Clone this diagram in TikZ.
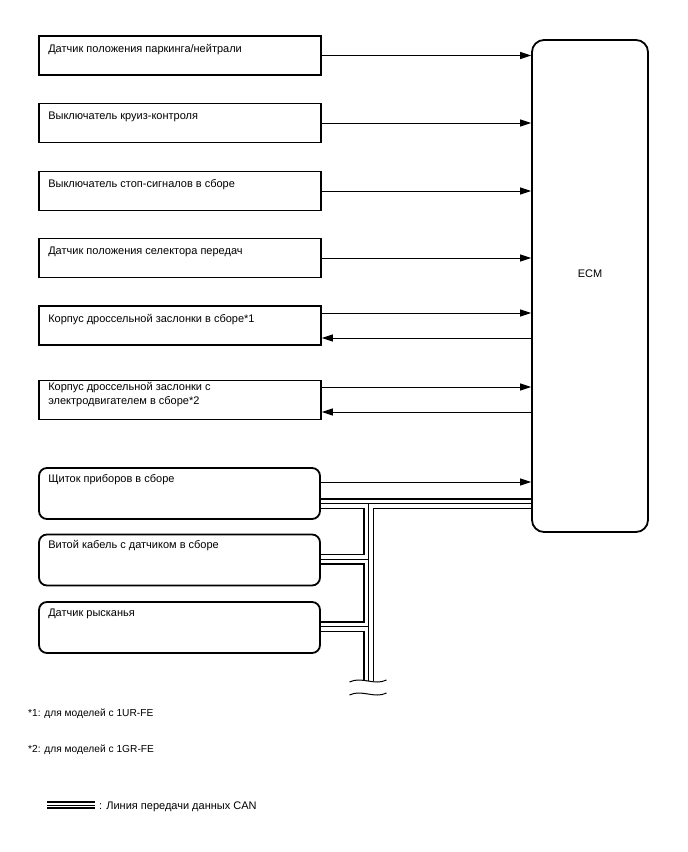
\documentclass[tikz,border=0pt]{standalone}
\usepackage{fontspec}
\setmainfont{Liberation Sans}
\usetikzlibrary{arrows.meta,calc}
\begin{document}
\begin{tikzpicture}[
  x=1pt, y=-1pt,
  every node/.style={font=\fontsize{11}{13}\selectfont},
  sqbox/.style={draw, line width=1.8pt, minimum width=282pt, minimum height=39pt, inner sep=0pt},
  rndbox/.style={draw, line width=1.8pt, rounded corners=8pt, minimum width=281pt, minimum height=51pt, inner sep=0pt},
  txt/.style={anchor=base west, inner sep=0pt},
  note/.style={txt, font=\fontsize{10.2}{12}\selectfont},
  sig/.style={line width=1pt, -{Triangle[length=11pt,width=7pt]}},
]
\useasboundingbox (0,0) rectangle (688,852);

% ECM block
\node[draw, line width=1.8pt, rounded corners=12pt, minimum width=116pt, minimum height=492pt,
      inner sep=0pt] (ecm) at (590,286) {};
\node (ecm-t) at ([yshift=12pt]ecm.center) {ECM};

% Input boxes: {name}{y centre}{label}
\foreach \n/\y/\lab in {
  pnsw/55.5/{Датчик положения паркинга/нейтрали},
  ccsw/123/Выключатель круиз-контроля,
  stsw/191/Выключатель стоп-сигналов в сборе,
  shsen/258/Датчик положения селектора передач,
  thra/325.5/Корпус дроссельной заслонки в сборе*1%
} {
  \node[sqbox] (\n) at (180,\y) {};
  \node[txt] (\n-t) at ([shift={(10,17)}]\n.north west) {\lab};
}
\node[sqbox] (thrb) at (180,400) {};
\node[txt] (thrb-t) at ([shift={(10,11)}]thrb.north west) {Корпус дроссельной заслонки с};
\node[txt] (thrb-t2) at ([yshift=-14pt]thrb-t.base west) {электродвигателем в сборе*2};

% CAN boxes
\foreach \n/\y/\lab in {
  meter/493.5/Щиток приборов в сборе,
  spcbl/560/Витой кабель с датчиком в сборе,
  yawsen/627.5/Датчик рысканья%
} {
  \node[rndbox] (\n) at (179.5,\y) {};
  \node[txt] (\n-t) at ([shift={(10,15)}]\n.north west) {\lab};
}

% Signal lines
\foreach \n in {pnsw,ccsw,stsw,shsen}
  \draw[sig] (\n.east) -- (\n.east -| ecm.west);
\draw[sig] ([yshift=12.5pt]thra.east) -- ([yshift=12.5pt]thra.east -| ecm.west);
\draw[sig] ([yshift=-12.5pt]thra.east -| ecm.west) -- ([yshift=-12.5pt]thra.east);
\draw[sig] ([yshift=13pt]thrb.east) -- ([yshift=13pt]thrb.east -| ecm.west);
\draw[sig] ([yshift=-12pt]thrb.east -| ecm.west) -- ([yshift=-12pt]thrb.east);
\draw[sig] ([yshift=11.5pt]meter.east) -- ([yshift=11.5pt]meter.east -| ecm.west);

% CAN bus (black / white / black layers)
\coordinate (canx) at (368.5,0);
\coordinate (can1) at ([yshift=-10pt]meter.east);
\coordinate (canend) at (368.5,681);
\foreach \lw/\col in {11/black, 8/white, 1/black} {
  \draw[line width=\lw pt, \col] (can1) -- (can1 -| ecm.west);
  \draw[line width=\lw pt, \col] (can1 -| canx) -- (canend);
  \draw[line width=\lw pt, \col] ([yshift=1pt]spcbl.east) -- ([yshift=1pt]spcbl.east -| canx);
  \draw[line width=\lw pt, \col] ([yshift=1pt]yawsen.east) -- ([yshift=1pt]yawsen.east -| canx);
}

% Break marks
\draw[line width=1pt] ($(canend)+(-19,1)$) .. controls +(12,-6) and +(-12,6) .. ($(canend)+(18,-1)$);
\draw[line width=1pt] ($(canend)+(-19,14)$) .. controls +(12,-6) and +(-12,6) .. ($(canend)+(18,12)$);

% Notes
\node[note] (note1) at (28,716) {*1: для моделей с 1UR-FE};
\node[note] (note2) at (28,752) {*2: для моделей с 1GR-FE};

% Legend
\coordinate (lgA) at (47,805);
\coordinate (lgB) at (95,805);
\foreach \lw/\col in {7.5/black, 4.5/white, 0.8/black}
  \draw[line width=\lw pt, \col] (lgA) -- (lgB);
\node[txt] (lgtxt) at ([shift={(4,4)}]lgB) {: Линия передачи данных CAN};

\end{tikzpicture}
\end{document}
